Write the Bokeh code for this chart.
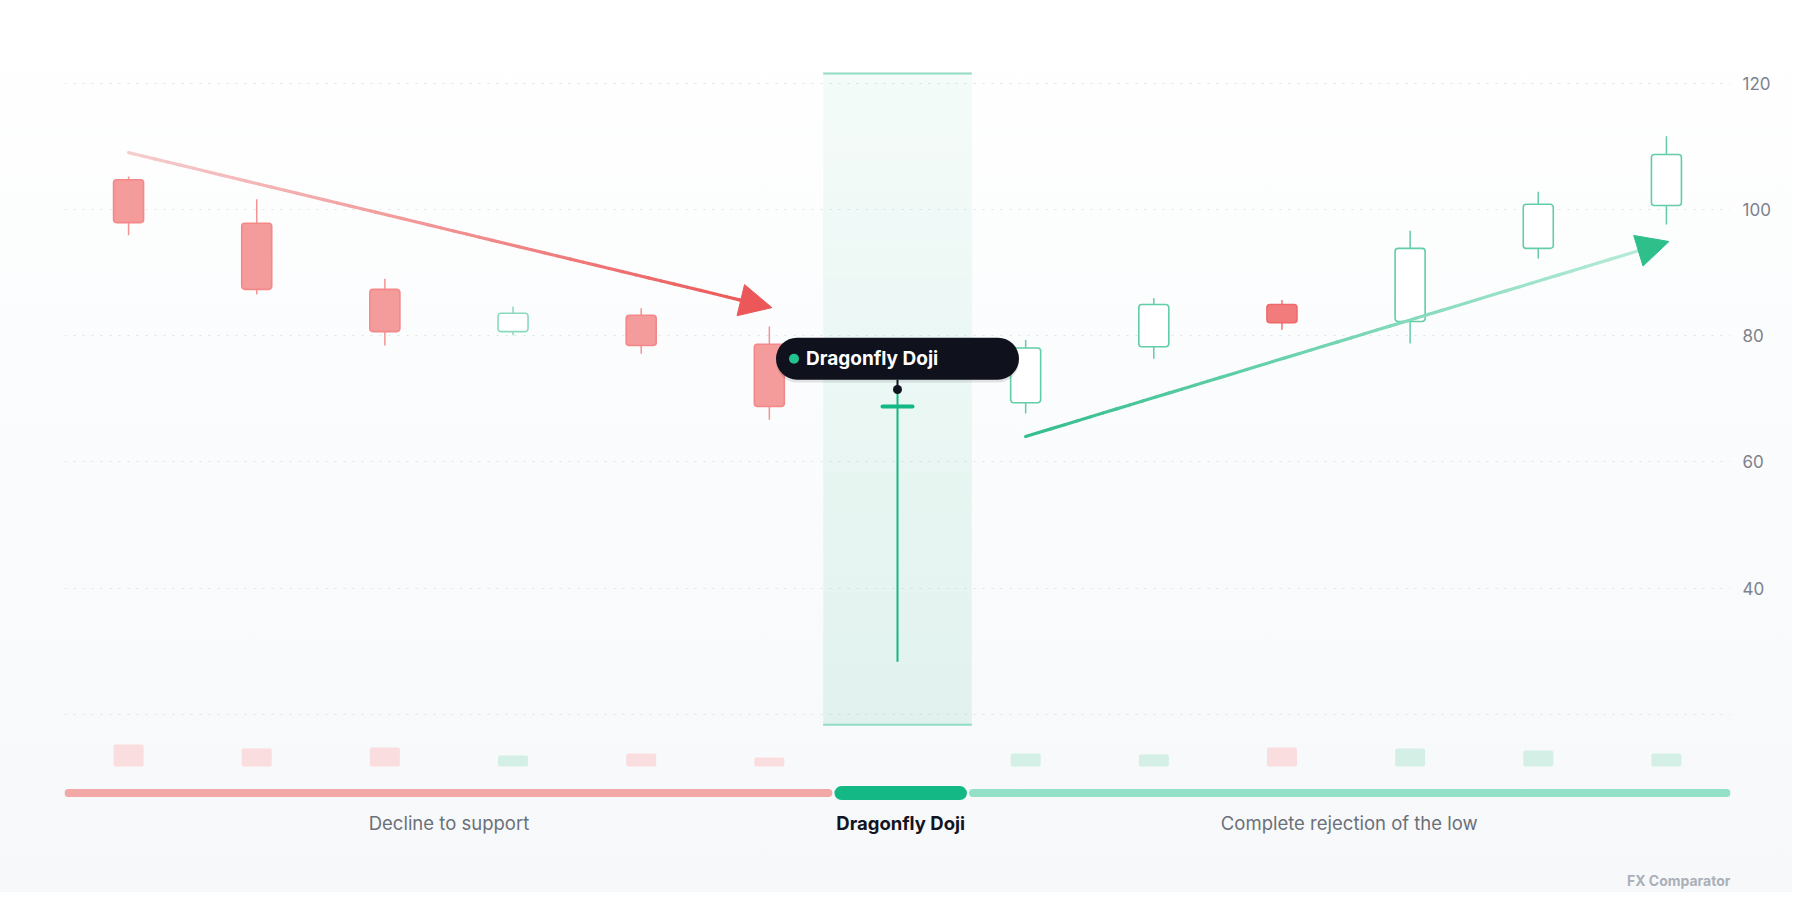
import numpy as np
from bokeh.plotting import figure
from bokeh.models import Range1d, FixedTicker, Arrow, NormalHead
from bokeh.core.properties import value
from bokeh.embed import file_html
from bokeh.resources import INLINE

# ---------------- data ----------------
candle_x = list(range(13))
open_p  = [104.8, 97.9, 87.4, 80.7, 83.3, 78.7, 68.8, 69.4, 78.3, 85.0, 82.3, 93.9, 100.7]
high_p  = [105.3, 101.7, 89.1, 84.7, 84.4, 81.5, 71.5, 79.4, 86.0, 85.7, 96.7, 102.9, 111.7]
low_p   = [96.0, 86.6, 78.5, 80.1, 77.2, 66.7, 28.3, 67.7, 76.4, 81.0, 78.8, 92.3, 97.7]
close_p = [98.0, 87.4, 80.7, 83.6, 78.5, 68.8, 68.8, 78.1, 85.0, 82.1, 93.9, 100.9, 108.8]
volume  = [220, 180, 190, 110, 130, 90, 0, 130, 120, 190, 180, 160, 130]

pattern_index = 6
pattern_name = "Dragonfly Doji"

phase_labels = ["Decline to support", "Dragonfly Doji", "Complete rejection of the low"]
phase_start = [-0.5, 5.5, 6.55]
phase_end = [5.5, 6.55, 12.5]

y_ticks = [20, 40, 60, 80, 100, 120]
y_tick_labels = ["", "40", "60", "80", "100", "120"]

watermark = "FX Comparator"

# ---------------- layout / style constants ----------------
FONT = value("Inter")
FRAME_W, FRAME_H = 1666, 884
X_RANGE = (-0.5, 12.5)
Y_RANGE = (-8.33, 131.98)
PX_X = FRAME_W / (X_RANGE[1] - X_RANGE[0])
PX_Y = FRAME_H / (Y_RANGE[1] - Y_RANGE[0])

RED = (239, 91, 92)
GREEN = (46, 189, 138)
DOJI = "#14b884"
BG = (252, 252, 253)


def mix(rgb, a, base=BG):
    return "#%02x%02x%02x" % tuple(int(round(a * c + (1 - a) * b)) for c, b in zip(rgb, base))


p = figure(frame_width=FRAME_W, frame_height=FRAME_H,
           x_range=Range1d(*X_RANGE), y_range=Range1d(*Y_RANGE),
           output_backend="svg", toolbar_location=None,
           x_axis_location=None, y_axis_location="right",
           min_border_left=64, min_border_right=62, min_border_top=8, min_border_bottom=0)
p.background_fill_alpha = 0
p.border_fill_alpha = 0
p.outline_line_color = None
p.styles = {"background": "linear-gradient(180deg, #ffffff 0%, #fbfcfd 45%, #f7f8fa 100%)"}

# volume axis range (extra)
vol_px = 0.1  # px per volume unit
base_from_bottom = 126
p.extra_y_ranges = {"vol": Range1d(-base_from_bottom / vol_px, (FRAME_H - base_from_bottom) / vol_px)}

# axis / grid
ax = p.yaxis[0]
ax.ticker = FixedTicker(ticks=y_ticks)
ax.major_label_overrides = {t: l for t, l in zip(y_ticks, y_tick_labels)}
ax.axis_line_color = None
ax.major_tick_line_color = None
ax.minor_tick_line_color = None
ax.major_label_text_font = "Inter"
ax.major_label_text_font_size = "17px"
ax.major_label_text_color = "#7d828b"
ax.major_label_standoff = 6
p.xgrid.grid_line_color = None
p.ygrid.ticker = FixedTicker(ticks=y_ticks)
p.ygrid.grid_line_color = "#dfe3e8"
p.ygrid.grid_line_dash = "2 7"
p.ygrid.grid_line_width = 1.2

# ---------------- highlight zone ----------------
zone_l, zone_r = pattern_index - 0.58, pattern_index + 0.58
zone_b, zone_t = 18.3, 121.67
N = 64
img = np.zeros((N, 1), dtype=np.uint32)
view = img.view(dtype=np.uint8).reshape((N, 1, 4))
for i in range(N):
    a = 0.115 - 0.065 * i / (N - 1)
    view[i, 0, :] = [GREEN[0], GREEN[1], GREEN[2], int(a * 255)]
p.image_rgba(image=[img], x=zone_l, y=zone_b, dw=zone_r - zone_l, dh=zone_t - zone_b)
p.segment(x0=[zone_l, zone_l], y0=[zone_t, zone_b], x1=[zone_r, zone_r], y1=[zone_t, zone_b],
          line_color="#92dcc2", line_width=2)

# ---------------- candles ----------------
cw = 30 / PX_X
body_fill, body_line, wick_col, vol_col = [], [], [], []
for i in range(len(candle_x)):
    bull = close_p[i] >= open_p[i]
    a = 0.6 if i < pattern_index else 0.8
    if bull:
        c = mix(GREEN, 0.55 if i < pattern_index else 0.75)
        body_fill.append("#ffffff")
        body_line.append(c)
        wick_col.append(c)
        vol_col.append(mix(GREEN, 0.2))
    else:
        body_fill.append(mix(RED, a))
        body_line.append(mix(RED, a + 0.12))
        wick_col.append(mix(RED, a + 0.05))
        vol_col.append(mix(RED, 0.19))

reg = [i for i in range(len(candle_x)) if i != pattern_index]
# volume
p.vbar(x=[candle_x[i] for i in reg], top=[volume[i] for i in reg], bottom=0, width=cw,
       fill_color=[vol_col[i] for i in reg], line_color=None, border_radius=2, y_range_name="vol")
# wicks
p.segment(x0=[candle_x[i] for i in reg], y0=[low_p[i] for i in reg],
          x1=[candle_x[i] for i in reg], y1=[high_p[i] for i in reg],
          line_color=[wick_col[i] for i in reg], line_width=1.5)
# bodies
p.vbar(x=[candle_x[i] for i in reg],
       top=[max(open_p[i], close_p[i]) for i in reg],
       bottom=[min(open_p[i], close_p[i]) for i in reg],
       width=cw, fill_color=[body_fill[i] for i in reg], line_color=[body_line[i] for i in reg],
       line_width=1.6, border_radius=3)

# doji
k = pattern_index
p.segment(x0=[candle_x[k]], y0=[low_p[k]], x1=[candle_x[k]], y1=[high_p[k]],
          line_color=DOJI, line_width=2)
p.segment(x0=[candle_x[k] - cw / 2], y0=[open_p[k]], x1=[candle_x[k] + cw / 2], y1=[close_p[k]],
          line_color=DOJI, line_width=4, line_cap="round")

# ---------------- trend arrows ----------------
def grad_arrow(x0, y0, x1, y1, c0, c1, head_col, n=48):
    dx, dy = (x1 - x0) * PX_X, (y1 - y0) * PX_Y
    L = (dx * dx + dy * dy) ** 0.5
    f_end = 1 - 20 / L
    ts = np.linspace(0, f_end, n + 1)
    xs0, ys0, xs1, ys1, cols = [], [], [], [], []
    for j in range(n):
        t0, t1 = ts[j], ts[j + 1]
        xs0.append(x0 + (x1 - x0) * t0); ys0.append(y0 + (y1 - y0) * t0)
        xs1.append(x0 + (x1 - x0) * t1); ys1.append(y0 + (y1 - y0) * t1)
        tm = (t0 + t1) / 2 / f_end
        cols.append("#%02x%02x%02x" % tuple(int(round(a + (b - a) * tm)) for a, b in zip(c0, c1)))
    p.segment(x0=xs0, y0=ys0, x1=xs1, y1=ys1, line_color=cols, line_width=3.2, line_cap="round")
    fs = 1 - 40 / L
    p.add_layout(Arrow(end=NormalHead(size=32, fill_color=head_col, line_color=head_col, line_width=1),
                       x_start=x0 + (x1 - x0) * fs, y_start=y0 + (y1 - y0) * fs,
                       x_end=x1, y_end=y1, line_alpha=0))

grad_arrow(0.0, 109.1, 5.02, 84.5, (246, 206, 206), (236, 88, 89), "#ec5859")
grad_arrow(7.0, 64.05, 12.02, 95.0, (50, 190, 140), (184, 236, 216), "#2fbf8b")

# ---------------- phase timeline ----------------
thin_t, thin_b = 8.09, 6.82
thick_t, thick_b = 8.56, 6.34
phase_cols = ["#f3a8a8", "#14b884", "#94e0c6"]
for j in range(len(phase_labels)):
    is_pat = (j == 1)
    p.quad(left=[phase_start[j] + (0.008 if j > 0 else 0)], right=[phase_end[j] - (0.008 if j < 2 else 0)],
           top=[thick_t if is_pat else thin_t], bottom=[thick_b if is_pat else thin_b],
           fill_color=phase_cols[j], line_color=None, border_radius=7 if is_pat else 4)
    p.text(x=[(phase_start[j] + phase_end[j]) / 2], y=[2.7], text=[phase_labels[j]],
           text_font=FONT, text_font_size="18.5px",
           text_font_style="bold" if is_pat else "normal",
           text_color="#12141f" if is_pat else "#6b7079",
           text_align="center", text_baseline="middle")

# ---------------- tooltip ----------------
tip_y = 76.4
half_w = 243 / 2 / PX_X
half_h = 42 / 2 / PX_Y
p.quad(left=[candle_x[k] - half_w], right=[candle_x[k] + half_w],
       top=[tip_y + half_h - 0.45], bottom=[tip_y - half_h - 0.45],
       fill_color="#000000", fill_alpha=0.10, line_color=None, border_radius=21)
p.quad(left=[candle_x[k] - half_w], right=[candle_x[k] + half_w],
       top=[tip_y + half_h], bottom=[tip_y - half_h],
       fill_color="#0f111c", line_color=None, border_radius=21)
p.segment(x0=[candle_x[k]], y0=[tip_y - half_h], x1=[candle_x[k]], y1=[high_p[k]],
          line_color="#0f111c", line_width=2)
p.scatter(x=[candle_x[k]], y=[high_p[k]], size=9, fill_color="#0f111c", line_color=None)
p.scatter(x=[candle_x[k] - half_w + 18 / PX_X], y=[tip_y], size=10, fill_color="#22c38e", line_color=None)
p.text(x=[candle_x[k] - half_w + 30 / PX_X], y=[tip_y], text=[pattern_name],
       text_font=FONT, text_font_size="19px", text_font_style="bold", text_color="#ffffff",
       text_align="left", text_baseline="middle")

# ---------------- watermark ----------------
p.text(x=[X_RANGE[1]], y=[-6.4], text=[watermark], text_font=FONT, text_font_size="14px",
       text_font_style="bold", text_color="#aab0b8", text_align="right", text_baseline="middle")

open("out.html", "w").write(file_html(p, INLINE))
